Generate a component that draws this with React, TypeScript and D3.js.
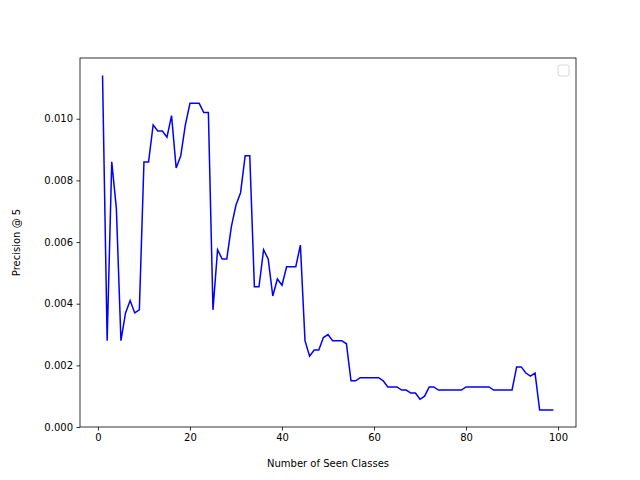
import * as d3 from "d3";
import { useEffect, useRef } from "react";

// x = 1..99 seen classes
const precisionAt5 = [
  0.0114, 0.0028, 0.0086, 0.0071, 0.0028, 0.0037, 0.0041, 0.0037, 0.0038, 0.0086,
  0.0086, 0.0098, 0.0096, 0.0096, 0.0094, 0.0101, 0.0084, 0.0088, 0.0098, 0.0105,
  0.0105, 0.0105, 0.0102, 0.0102, 0.0038, 0.00575, 0.00545, 0.00545, 0.0065, 0.0072,
  0.0076, 0.0088, 0.0088, 0.00455, 0.00455, 0.00575, 0.00545, 0.00425, 0.0048, 0.0046,
  0.0052, 0.0052, 0.0052, 0.0059, 0.0028, 0.0023, 0.0025, 0.0025, 0.0029, 0.003,
  0.0028, 0.0028, 0.0028, 0.0027, 0.0015, 0.0015, 0.0016, 0.0016, 0.0016, 0.0016,
  0.0016, 0.0015, 0.0013, 0.0013, 0.0013, 0.0012, 0.0012, 0.0011, 0.0011, 0.0009,
  0.001, 0.0013, 0.0013, 0.0012, 0.0012, 0.0012, 0.0012, 0.0012, 0.0012, 0.0013,
  0.0013, 0.0013, 0.0013, 0.0013, 0.0013, 0.0012, 0.0012, 0.0012, 0.0012, 0.0012,
  0.00195, 0.00195, 0.00175, 0.00165, 0.00175, 0.00055, 0.00055, 0.00055, 0.00055,
];
const xTicks = [0, 20, 40, 60, 80, 100];
const yTicks = [0, 0.002, 0.004, 0.006, 0.008, 0.01];

const App = () => {
  const svgRef = useRef<SVGSVGElement | null>(null);

  useEffect(() => {
    if (!svgRef.current) return;
    const width = 640, height = 480;
    const margin = { top: 58, right: 64, bottom: 53, left: 80 };
    const font = "DejaVu Sans";

    const data = precisionAt5.map((y, i) => ({ x: i + 1, y }));

    const svg = d3.select(svgRef.current);
    svg.selectAll("*").remove();

    const x = d3.scaleLinear().domain([-3.9, 103.9]).range([margin.left, width - margin.right]);
    const y = d3.scaleLinear().domain([0, 0.01197]).range([height - margin.bottom, margin.top]);

    const line = d3.line<{ x: number; y: number }>().x(d => x(d.x)).y(d => y(d.y));

    svg.append("path")
      .datum(data)
      .attr("fill", "none")
      .attr("stroke", "#0000ff")
      .attr("stroke-width", 1.5)
      .attr("d", line);

    const xAxis = svg.append("g")
      .attr("transform", `translate(0,${height - margin.bottom})`)
      .call(d3.axisBottom(x).tickValues(xTicks).tickFormat(d3.format("d")).tickSize(3.5).tickPadding(3.5));
    const yAxis = svg.append("g")
      .attr("transform", `translate(${margin.left},0)`)
      .call(d3.axisLeft(y).tickValues(yTicks).tickFormat(d3.format(".3f")).tickSize(3.5).tickPadding(3.5));

    [xAxis, yAxis].forEach(g => {
      g.select(".domain").remove();
      g.selectAll("text").attr("font-family", font).attr("font-size", 10).attr("fill", "#000");
      g.selectAll("line").attr("stroke", "#000").attr("stroke-width", 0.8);
    });

    svg.append("rect")
      .attr("x", margin.left).attr("y", margin.top)
      .attr("width", width - margin.left - margin.right)
      .attr("height", height - margin.top - margin.bottom)
      .attr("fill", "none").attr("stroke", "#000").attr("stroke-width", 0.8);

    // empty legend box
    svg.append("rect")
      .attr("x", 558).attr("y", 65).attr("width", 11).attr("height", 11).attr("rx", 2)
      .attr("fill", "#fff").attr("stroke", "#cccccc").attr("stroke-width", 0.8);

    svg.append("text")
      .attr("x", (margin.left + width - margin.right) / 2).attr("y", 467)
      .attr("text-anchor", "middle").attr("font-family", font).attr("font-size", 10)
      .text("Number of Seen Classes");

    svg.append("text")
      .attr("transform", `translate(20,${(margin.top + height - margin.bottom) / 2}) rotate(-90)`)
      .attr("text-anchor", "middle").attr("font-family", font).attr("font-size", 10)
      .text("Precision @ 5");
  }, []);

  return <svg ref={svgRef} width={640} height={480} style={{ position: "absolute", left: 0, top: 0, background: "#fff" }}></svg>;
};

export default App;
